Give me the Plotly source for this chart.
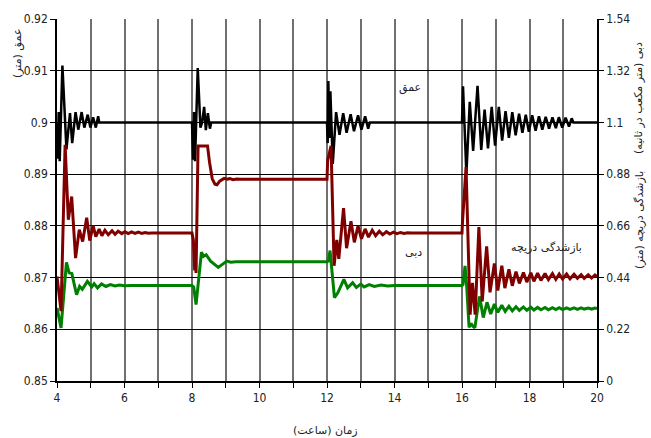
import plotly.graph_objects as go

# ---- data ----
# depth (left axis, m)
depth_t = [4.00, 4.02, 4.05, 4.08, 4.16, 4.28, 4.385, 4.45, 4.55, 4.63, 4.73, 4.81, 4.91, 4.99, 5.07, 5.15, 5.22, 5.25,
           8.00, 8.03, 8.06, 8.09, 8.17, 8.25, 8.30, 8.36, 8.41, 8.47, 8.53, 8.57,
           12.00, 12.02, 12.04, 12.07, 12.10, 12.17, 12.27, 12.37, 12.48, 12.58, 12.70, 12.80, 12.92, 13.02, 13.13, 13.22, 13.27,
           16.00, 16.03, 16.13, 16.23, 16.33, 16.46, 16.57, 16.67, 16.77, 16.88, 16.98, 17.09, 17.19, 17.29, 17.39, 17.49,
           17.59, 17.69, 17.79, 17.89, 17.98, 18.08, 18.18, 18.28, 18.38, 18.48, 18.58, 18.68, 18.78, 18.87, 18.97, 19.07,
           19.17, 19.25, 19.30, 20.00]
depth_v = [0.900, 0.893, 0.902, 0.8925, 0.911, 0.8948, 0.9018, 0.896, 0.902, 0.8986, 0.902, 0.899, 0.9015, 0.899, 0.901, 0.899, 0.9012, 0.900,
           0.900, 0.8928, 0.902, 0.8925, 0.9105, 0.899, 0.900, 0.903, 0.8985, 0.9018, 0.8988, 0.900,
           0.900, 0.896, 0.908, 0.897, 0.906, 0.892, 0.902, 0.8976, 0.9018, 0.898, 0.9016, 0.8983, 0.9014, 0.8986, 0.9012, 0.8988, 0.900,
           0.900, 0.907, 0.890, 0.904, 0.8945, 0.9071, 0.8947, 0.9025, 0.895, 0.903, 0.8955, 0.903, 0.8965, 0.9022, 0.897, 0.902,
           0.8975, 0.9017, 0.898, 0.9015, 0.8982, 0.9014, 0.8984, 0.9012, 0.8986, 0.9011, 0.8988, 0.901, 0.8989, 0.901, 0.899, 0.9009,
           0.8992, 0.9008, 0.900, 0.900]

# discharge (right axis, m3/s)
flow_t = [4.00, 4.12, 4.24, 4.335, 4.435, 4.55, 4.66, 4.76, 4.88, 4.97, 5.07, 5.15, 5.25, 5.33, 5.42, 5.52, 5.63, 5.72,
          5.81, 5.92, 6.01, 6.11, 6.21, 6.31, 6.41, 6.51, 6.61, 6.71, 6.80,
          8.00, 8.04, 8.08, 8.10, 8.12, 8.18, 8.46, 8.52, 8.60, 8.68, 8.74, 8.82, 8.95, 9.05, 9.12, 9.22, 9.32, 9.42,
          12.00, 12.02, 12.12, 12.21, 12.29, 12.35, 12.49, 12.58, 12.71, 12.81, 12.92, 13.02, 13.13, 13.23, 13.34, 13.44,
          13.55, 13.65, 13.76, 13.86, 13.97, 14.07, 14.18, 14.28, 14.39, 14.50,
          16.00, 16.02, 16.12, 16.24, 16.31, 16.39, 16.50, 16.60, 16.73, 16.83, 16.96, 17.06, 17.18, 17.27, 17.39, 17.49,
          17.60, 17.70, 17.82, 17.92, 18.04, 18.13, 18.24, 18.34, 18.46, 18.56, 18.68, 18.78, 18.88, 18.98, 19.10, 19.20,
          19.32, 19.42, 19.53, 19.62, 19.74, 19.84, 19.94, 20.00]
flow_v = [0.445, 0.297, 1.005, 0.686, 0.785, 0.523, 0.644, 0.593, 0.695, 0.597, 0.661, 0.614, 0.646, 0.618, 0.641, 0.622, 0.639, 0.624,
          0.637, 0.627, 0.635, 0.627, 0.634, 0.628, 0.633, 0.628, 0.632, 0.629, 0.630,
          0.630, 0.600, 0.470, 0.500, 0.460, 1.000, 1.000, 0.930, 0.860, 0.837, 0.835, 0.850, 0.862, 0.858, 0.861, 0.856, 0.859, 0.858,
          0.858, 0.940, 1.000, 0.490, 0.600, 0.520, 0.735, 0.565, 0.680, 0.590, 0.660, 0.605, 0.647, 0.612, 0.641, 0.618,
          0.637, 0.622, 0.635, 0.625, 0.633, 0.627, 0.632, 0.628, 0.631, 0.630,
          0.630, 0.690, 0.910, 0.282, 0.417, 0.282, 0.655, 0.339, 0.573, 0.377, 0.500, 0.385, 0.490, 0.395, 0.475, 0.405,
          0.465, 0.415, 0.462, 0.421, 0.460, 0.424, 0.459, 0.428, 0.457, 0.431, 0.457, 0.432, 0.455, 0.434, 0.455, 0.435,
          0.454, 0.437, 0.452, 0.437, 0.452, 0.438, 0.451, 0.444]

# gate opening (right axis, m)
gate_t = [4.00, 4.12, 4.28, 4.36, 4.44, 4.58, 4.67, 4.75, 4.90, 5.03, 5.10, 5.20, 5.32, 5.45, 5.58, 5.72, 5.85, 6.00, 6.20,
          8.00, 8.05, 8.12, 8.28, 8.34, 8.42, 8.55, 8.78, 9.03, 9.15, 9.30,
          12.00, 12.04, 12.09, 12.14, 12.22, 12.32, 12.50, 12.61, 12.76, 12.87, 13.00, 13.10, 13.25, 13.40, 13.60, 13.80, 14.00,
          16.00, 16.03, 16.09, 16.14, 16.21, 16.27, 16.31, 16.38, 16.52, 16.63, 16.74, 16.85, 16.96, 17.06, 17.18, 17.28,
          17.39, 17.49, 17.60, 17.70, 17.82, 17.92, 18.04, 18.13, 18.24, 18.34, 18.46, 18.56, 18.68, 18.78, 18.88, 18.98,
          19.10, 19.20, 19.32, 19.42, 19.53, 19.62, 19.74, 19.84, 19.94, 20.00]
gate_v = [0.311, 0.226, 0.505, 0.460, 0.457, 0.367, 0.403, 0.390, 0.424, 0.400, 0.414, 0.396, 0.413, 0.402, 0.410, 0.404, 0.408, 0.405, 0.406,
          0.406, 0.400, 0.325, 0.548, 0.530, 0.537, 0.510, 0.483, 0.510, 0.505, 0.507,
          0.507, 0.510, 0.555, 0.470, 0.355, 0.375, 0.432, 0.396, 0.418, 0.398, 0.412, 0.400, 0.410, 0.402, 0.408, 0.404, 0.406,
          0.406, 0.410, 0.490, 0.400, 0.228, 0.245, 0.235, 0.226, 0.360, 0.270, 0.335, 0.285, 0.327, 0.292, 0.322, 0.296,
          0.318, 0.298, 0.316, 0.300, 0.315, 0.301, 0.314, 0.302, 0.313, 0.303, 0.313, 0.303, 0.312, 0.304, 0.312, 0.304,
          0.311, 0.305, 0.311, 0.305, 0.311, 0.306, 0.310, 0.306, 0.310, 0.308]

x_ticks = list(range(4, 21))
x_labels = [str(v) if v % 2 == 0 else "" for v in x_ticks]
left_ticks = [0.85, 0.86, 0.87, 0.88, 0.89, 0.90, 0.91, 0.92]
left_labels = ["0.85", "0.86", "0.87", "0.88", "0.89", "0.9", "0.91", "0.92"]
right_ticks = [0, 0.22, 0.44, 0.66, 0.88, 1.1, 1.32, 1.54]
right_labels = ["0", "0.22", "0.44", "0.66", "0.88", "1.1", "1.32", "1.54"]

NUM_FONT = "Liberation Sans Narrow, Arial Narrow, DejaVu Sans Condensed, sans-serif"
FA_FONT = "DejaVu Sans, Noto Sans, sans-serif"

W, H = 651, 438
ML, MR, MT, MB = 57, 54, 19, 57

fig = go.Figure()
fig.add_trace(go.Scatter(x=depth_t, y=depth_v, mode="lines", line=dict(color="#000000", width=2.5),
                         yaxis="y", showlegend=False))
fig.add_trace(go.Scatter(x=gate_t, y=gate_v, mode="lines", line=dict(color="#008000", width=3),
                         yaxis="y2", showlegend=False))
fig.add_trace(go.Scatter(x=flow_t, y=flow_v, mode="lines", line=dict(color="#800000", width=3),
                         yaxis="y2", showlegend=False))

fig.update_layout(
    width=W, height=H,
    margin=dict(l=ML, r=MR, t=MT, b=MB),
    paper_bgcolor="white", plot_bgcolor="white",
    font=dict(family=NUM_FONT, size=12, color="#222"),
    xaxis=dict(range=[4, 20], tickmode="array", tickvals=x_ticks, ticktext=x_labels,
               showgrid=True, gridcolor="#707070", gridwidth=1.5,
               showline=True, linecolor="#000", linewidth=1.5, mirror=False,
               ticks="outside", ticklen=5, tickcolor="#000", zeroline=False,
               tickfont=dict(family=NUM_FONT, size=12)),
    yaxis=dict(range=[0.85, 0.92], tickmode="array", tickvals=left_ticks, ticktext=left_labels,
               showgrid=True, gridcolor="#000000", gridwidth=1,
               showline=True, linecolor="#000", linewidth=1.5,
               ticks="outside", ticklen=5, tickcolor="#000", zeroline=False,
               tickfont=dict(family=NUM_FONT, size=12)),
    yaxis2=dict(range=[0, 1.54], overlaying="y", side="right", tickmode="array",
                tickvals=right_ticks, ticktext=right_labels, showgrid=False,
                showline=True, linecolor="#000", linewidth=1.5,
                ticks="outside", ticklen=5, tickcolor="#000", zeroline=False,
                tickfont=dict(family=NUM_FONT, size=12)),
)

fa = dict(family=FA_FONT, size=11, color="#222")
ann = [
    dict(text="عمق", x=14.46, y=0.9066, xref="x", yref="y", showarrow=False, font=fa),
    dict(text="دبی", x=14.55, y=0.8749, xref="x", yref="y", showarrow=False, font=fa),
    dict(text="بازشدگی دریچه", x=18.5, y=0.8758, xref="x", yref="y", showarrow=False, font=fa),
]
# axis titles placed by pixel position
pw, ph = W - ML - MR, H - MT - MB
def px(xp, yp):
    return (xp - ML) / pw, 1 - (yp - MT) / ph
for text, xp, yp, ang in [("زمان (ساعت)", 325, 430, 0),
                          ("عمق (متر)", 18, 54, -90),
                          ("دبی (متر مکعب در ثانیه)", 639, 98, -90),
                          ("بازشدگی دریچه (متر)", 639, 220, -90)]:
    xx, yy = px(xp, yp)
    ann.append(dict(text=text, x=xx, y=yy, xref="paper", yref="paper", textangle=ang,
                    showarrow=False, font=fa, xanchor="center", yanchor="middle"))
fig.update_layout(annotations=ann)

fig.write_html("out.html", config={"displayModeBar": False},
               post_script="document.body.style.margin='0';document.body.style.padding='0';")
